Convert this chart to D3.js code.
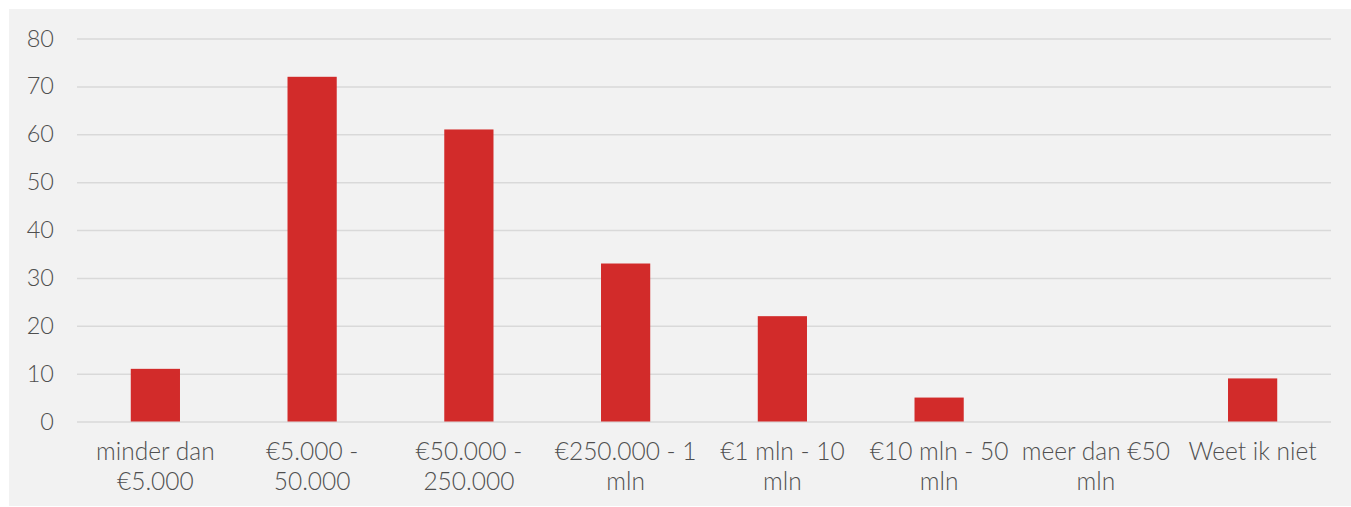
<!DOCTYPE html>
<html>
<head>
<meta charset="utf-8">
<script src="https://cdn.jsdelivr.net/npm/d3@7"></script>
<style>
  html, body { margin: 0; padding: 0; background: #ffffff; }
  svg { display: block; }
  text { font-family: Lato, "Open Sans", sans-serif; fill: #4f4f4f; font-weight: 300; }
</style>
</head>
<body>
<svg id="chart" width="1351" height="507"></svg>
<script>
// Omzetklassen (labels split over two lines with "\n")
const categories = [
  "minder dan\n€5.000",
  "€5.000 -\n50.000",
  "€50.000 -\n250.000",
  "€250.000 - 1\nmln",
  "€1 mln - 10\nmln",
  "€10 mln - 50\nmln",
  "meer dan €50\nmln",
  "Weet ik niet"
];
const values = [11, 72, 61, 33, 22, 5, 0, 9];
const yTicks = [0, 10, 20, 30, 40, 50, 60, 70, 80];

const svg = d3.select("#chart");
const W = 1351, H = 507;
const fontFamily = "Lato, 'Open Sans', sans-serif";
const textColor = "#4f4f4f";

// background panel
svg.append("rect")
  .attr("x", 9).attr("y", 9)
  .attr("width", W - 9).attr("height", 497)
  .attr("fill", "#f2f2f2");

const plot = { left: 77, right: 1331, top: 38.5, bottom: 421.5 };

const x = d3.scaleBand()
  .domain(categories)
  .range([plot.left, plot.right])
  .paddingInner(0.686)
  .paddingOuter(0.343);

const y = d3.scaleLinear()
  .domain([0, 80])
  .range([plot.bottom, plot.top]);

// gridlines + y labels
const yAxis = d3.axisLeft(y)
  .tickValues(yTicks)
  .tickSize(-(plot.right - plot.left))
  .tickPadding(23)
  .tickFormat(d3.format("d"));

const gy = svg.append("g")
  .attr("transform", `translate(${plot.left},0)`)
  .call(yAxis);
gy.select(".domain").remove();
gy.selectAll(".tick line")
  .attr("stroke", "#d9d9d9")
  .attr("stroke-width", 1.5);
gy.selectAll(".tick text")
  .attr("font-size", 23.5)
  .attr("fill", textColor)
  .style("font-family", fontFamily)
  .style("font-weight", 300);

// bars
svg.append("g")
  .selectAll("rect")
  .data(values)
  .join("rect")
  .attr("x", (d, i) => x(categories[i]))
  .attr("width", x.bandwidth())
  .attr("y", d => y(d))
  .attr("height", d => y(0) - y(d))
  .attr("fill", "#d22b2a");

// x category labels
const xl = svg.append("g")
  .selectAll("text")
  .data(categories)
  .join("text")
  .attr("text-anchor", "middle")
  .attr("font-size", 24.5)
  .attr("fill", textColor)
  .style("font-family", fontFamily)
  .style("font-weight", 300)
  .attr("x", d => x(d) + x.bandwidth() / 2)
  .attr("y", 460);
xl.each(function(d) {
  const lines = d.split("\n");
  d3.select(this).selectAll("tspan")
    .data(lines)
    .join("tspan")
    .attr("x", x(d) + x.bandwidth() / 2)
    .attr("dy", (l, i) => i === 0 ? 0 : 30)
    .text(l => l);
});
</script>
</body>
</html>
